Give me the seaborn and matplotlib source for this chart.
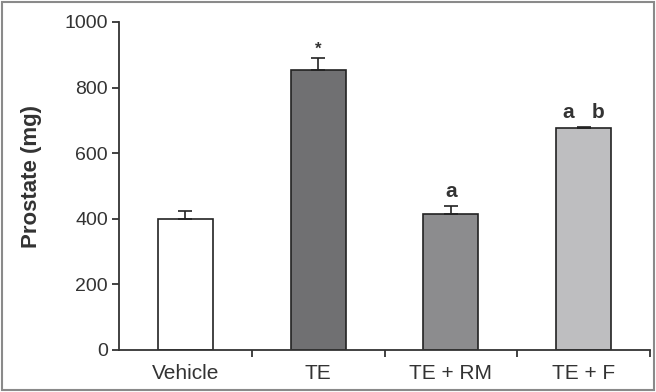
import matplotlib
matplotlib.use("Agg")
import matplotlib.pyplot as plt
import seaborn as sns
import pandas as pd
from matplotlib.patches import Rectangle

categories = ["Vehicle", "TE", "TE + RM", "TE + F"]
means = [400, 854, 415, 677]
errors = [25, 35, 24, 4]
annotations = ["", "*", "a", "a   b"]
colors = ["#ffffff", "#707072", "#8c8c8e", "#bebec0"]
yticks = [0, 200, 400, 600, 800, 1000]

sns.set_style("white")
plt.rcParams["font.family"] = ["Liberation Sans", "DejaVu Sans"]

df = pd.DataFrame({"group": categories, "prostate": means})

fig = plt.figure(figsize=(6.56, 3.92), dpi=100)
ax = fig.add_axes([119 / 656, 42 / 392, 531 / 656, 328 / 392])

sns.barplot(data=df, x="group", y="prostate", hue="group", palette=colors,
            width=0.415, edgecolor="#222222", linewidth=1.2, legend=False, ax=ax)

ax.errorbar(range(len(categories)), means, yerr=[[0] * len(errors), errors],
            fmt="none", ecolor="#222222", elinewidth=1.2, capsize=5, capthick=1.2)

for i, (m, e, t) in enumerate(zip(means, errors, annotations)):
    if t == "*":
        ax.text(i, m + e + 6, t, ha="center", va="bottom", fontsize=12,
                fontweight="bold", color="#333333")
    elif t:
        ax.text(i, m + e + 14, t, ha="center", va="bottom", fontsize=15,
                fontweight="bold", color="#333333")

ax.set_xlim(-0.5, 3.5)
ax.set_ylim(0, 1000)
ax.set_yticks(yticks)
ax.set_xlabel("")
ax.set_ylabel("Prostate (mg)", fontsize=16, fontweight="bold", color="#333333")
ax.yaxis.set_label_coords(-0.145, 0.53)

for s in ["top", "right"]:
    ax.spines[s].set_visible(False)
for s in ["left", "bottom"]:
    ax.spines[s].set_color("#333333")
    ax.spines[s].set_linewidth(1.3)

ax.set_xticks([0, 1, 2, 3])
ax.set_xticks([0.5, 1.5, 2.5, 3.5], minor=True)
ax.tick_params(axis="x", which="major", length=0, pad=10, labelsize=15, labelcolor="#333333")
ax.tick_params(axis="x", which="minor", length=5, width=1.3, color="#333333", direction="out", bottom=True)
ax.tick_params(axis="y", length=5, width=1.3, color="#333333", direction="out", left=True,
               labelsize=14, labelcolor="#333333", pad=3)

fig.patches.append(Rectangle((0.003, 0.004), 0.994, 0.992, transform=fig.transFigure,
                             fill=False, edgecolor="#8a8a8a", linewidth=1.5))

fig.savefig("out.png", dpi=100)
